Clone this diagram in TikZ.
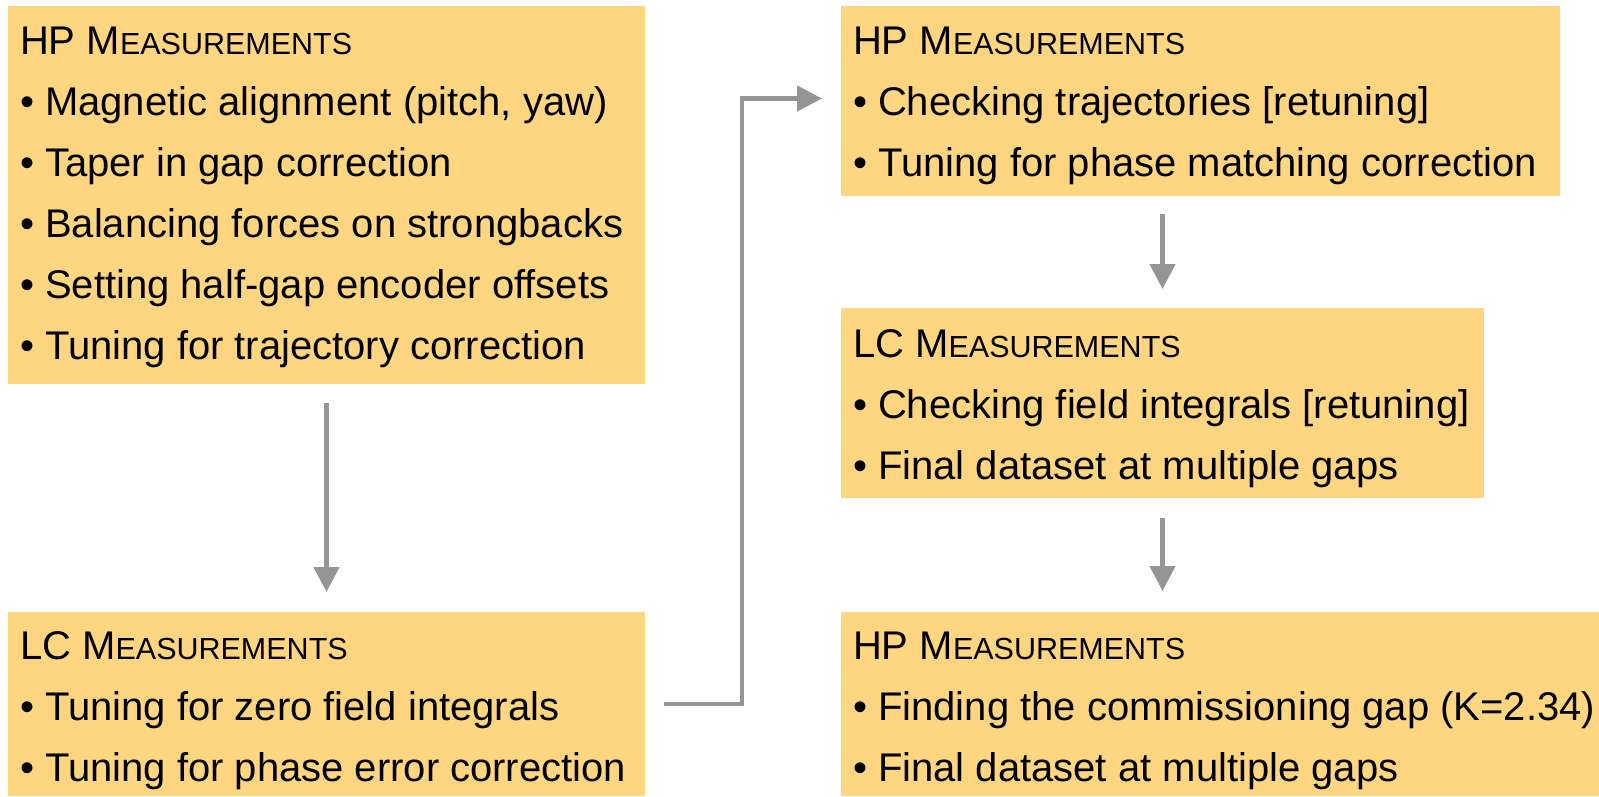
\documentclass[tikz,border=0pt]{standalone}
\usepackage{fontspec}
\setmainfont{Liberation Sans}
\usetikzlibrary{arrows.meta}

\definecolor{boxfill}{RGB}{254,213,128}
\definecolor{linkgray}{RGB}{149,149,149}

% header in small capitals: "XX M" large, the rest smaller
\newcommand\measurehdr[1]{#1 M{\fontsize{30.5}{36}\selectfont EASUREMENTS}}

\tikzset{
  box/.style={fill=boxfill, draw=none, rectangle, inner sep=0pt, outer sep=0pt, anchor=north west},
  txt/.style={anchor=base west, inner sep=0pt, outer sep=0pt, font=\fontsize{40}{48}\selectfont},
  link/.style={draw=linkgray, line width=4.6pt, -{Triangle[width=25pt,length=25pt]}}
}

\begin{document}
\begin{tikzpicture}[x=1pt,y=-1pt]
\useasboundingbox (0,0) rectangle (1599,796);

% boxes
\node[box, minimum width=637pt, minimum height=378pt] (b1) at (8,6) {};
\node[box, minimum width=637pt, minimum height=184pt] (b2) at (8,612) {};
\node[box, minimum width=719pt, minimum height=190pt] (b3) at (841,6) {};
\node[box, minimum width=643pt, minimum height=190pt] (b4) at (841,308) {};
\node[box, minimum width=758pt, minimum height=184pt] (b5) at (841,612) {};

% first HP block
\node[txt] (b1h) at (20,54)  {\measurehdr{HP}};
\node[txt] (b1a) at (20,115) {• Magnetic alignment (pitch, yaw)};
\node[txt] (b1b) at (20,176) {• Taper in gap correction};
\node[txt] (b1c) at (20,237) {• Balancing forces on strongbacks};
\node[txt] (b1d) at (20,298) {• Setting half-gap encoder offsets};
\node[txt] (b1e) at (20,359) {• Tuning for trajectory correction};

% first LC block
\node[txt] (b2h) at (20,659) {\measurehdr{LC}};
\node[txt] (b2a) at (20,720) {• Tuning for zero field integrals};
\node[txt] (b2b) at (20,781) {• Tuning for phase error correction};

% second HP block
\node[txt] (b3h) at (853,54)  {\measurehdr{HP}};
\node[txt] (b3a) at (853,115) {• Checking trajectories [retuning]};
\node[txt] (b3b) at (853,176) {• Tuning for phase matching correction};

% second LC block
\node[txt] (b4h) at (853,357) {\measurehdr{LC}};
\node[txt] (b4a) at (853,418) {• Checking field integrals [retuning]};
\node[txt] (b4b) at (853,479) {• Final dataset at multiple gaps};

% final HP block
\node[txt] (b5h) at (853,659) {\measurehdr{HP}};
\node[txt] (b5a) at (853,720) {• Finding the commissioning gap (K=2.34)};
\node[txt] (b5b) at (853,781) {• Final dataset at multiple gaps};

% connectors
\draw[link, shorten <=19pt, shorten >=20pt] (b1.south) -- (b2.north);

\coordinate (turn) at (742,98.5);
\draw[link, shorten >=19pt, line join=miter]
  ([xshift=19pt]b2.east) -| (turn) -- (turn -| b3.west);

\draw[link, shorten <=18pt, shorten >=19pt] (b4.north |- b3.south) -- (b4.north);
\draw[link, shorten <=20pt, shorten >=21pt] (b4.south) -- (b4.south |- b5.north);
\end{tikzpicture}
\end{document}
